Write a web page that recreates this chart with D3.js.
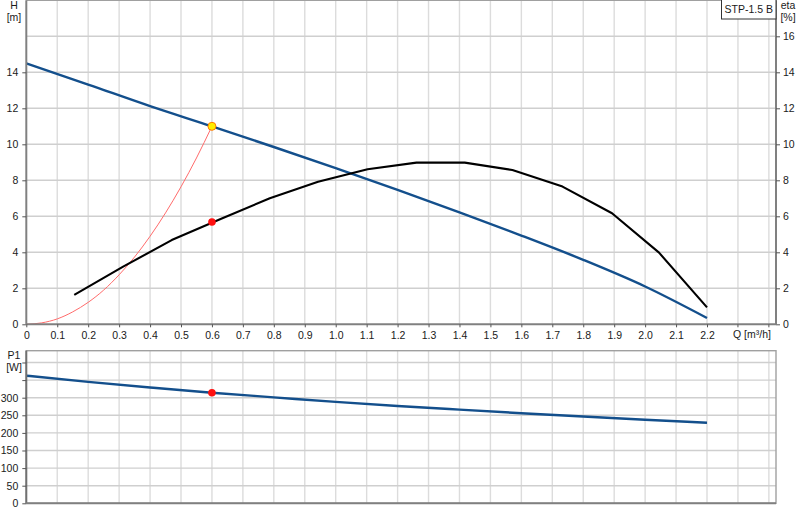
<!DOCTYPE html>
<html>
<head>
<meta charset="utf-8">
<script src="https://cdn.jsdelivr.net/npm/d3@7"></script>
<style>
  html, body { margin: 0; padding: 0; background: #fff; }
  svg { display: block; font-family: "Liberation Sans", Arial, sans-serif; }
  text { fill: #1a1a1a; }
</style>
</head>
<body>
<svg id="chart" width="800" height="520"></svg>
<script>
// ---------- data ----------
const xTickLabels = [0,0.1,0.2,0.3,0.4,0.5,0.6,0.7,0.8,0.9,1.0,1.1,1.2,1.3,1.4,1.5,1.6,1.7,1.8,1.9,2.0,2.1,2.2];
const hTicks = [0,2,4,6,8,10,12,14];
const etaTicks = [0,2,4,6,8,10,12,14,16];
const p1Ticks = [0,50,100,150,200,250,300];

// pump curve H(Q)
const hQ = [0, 0.2, 0.4, 0.6, 0.8, 1.0, 1.2, 1.4, 1.6, 1.8, 2.0, 2.2];
const hVal = [14.5, 13.32, 12.12, 11.0, 9.85, 8.68, 7.47, 6.22, 4.93, 3.58, 2.1, 0.35];

// efficiency eta(Q)
const etaQ = [0.155, 0.313, 0.47, 0.628, 0.787, 0.943, 1.103, 1.261, 1.417, 1.571, 1.733, 1.893, 2.045, 2.2];
const etaVal = [1.63, 3.2, 4.68, 5.85, 7.0, 7.92, 8.61, 8.98, 8.98, 8.57, 7.65, 6.17, 3.98, 0.94];

// system curve
const sysQ = [0, 0.05, 0.1, 0.15, 0.2, 0.25, 0.3, 0.35, 0.4, 0.45, 0.5, 0.55, 0.6];
const sysVal = [0, 0.08, 0.3, 0.69, 1.22, 1.9, 2.75, 3.74, 4.89, 6.19, 7.64, 9.24, 11.0];

// power P1(Q)
const p1Q = [0, 0.2, 0.4, 0.6, 0.8, 1.0, 1.2, 1.4, 1.6, 1.8, 2.0, 2.2];
const p1Val = [362.5, 345, 329, 314, 301, 288, 276.5, 266, 256, 246.5, 237.5, 229];

// duty point
const dutyQ = 0.6, dutyH = 11.0, dutyEta = 5.68, dutyP1 = 314;
const title = "STP-1.5 B";

// ---------- layout ----------
const svg = d3.select("#chart");
const L = 26.3, R = 776;
const topT = 0.3, topB = 324.3;
const botT = 350.7, botB = 503.3;

const x = d3.scaleLinear().domain([0, 2.423]).range([L, R]);
const yH = d3.scaleLinear().domain([0, 18]).range([topB, topT]);
const yP = d3.scaleLinear().domain([0, 433.5]).range([botB, botT]);

const vGrid = d3.range(1, 25).map(i => i / 10);
const hGridTop = [2,4,6,8,10,12,14,16];
const hGridBot = [50,100,150,200,250,300,350,400];

function grid(g, yScale, hVals, y0, y1) {
  g.selectAll("line.v").data(vGrid).join("line")
    .attr("x1", d => x(d)).attr("x2", d => x(d))
    .attr("y1", y0).attr("y2", y1)
    .attr("stroke", "#dcdcdc").attr("stroke-width", 1.4);
  g.selectAll("line.h").data(hVals).join("line")
    .attr("x1", L).attr("x2", R)
    .attr("y1", d => yScale(d)).attr("y2", d => yScale(d))
    .attr("stroke", "#cfcfcf").attr("stroke-width", 1.4);
}

// ---------- top panel ----------
const gTop = svg.append("g");
grid(gTop.append("g"), yH, hGridTop, topT, topB);
// frame top
gTop.append("line").attr("x1", L).attr("x2", R).attr("y1", topT).attr("y2", topT)
  .attr("stroke", "#a0a0a0").attr("stroke-width", 1.2);

// system curve
gTop.append("path")
  .datum(sysQ.map((q, i) => [q, sysVal[i]]))
  .attr("fill", "none").attr("stroke", "#ff6b6b").attr("stroke-width", 1)
  .attr("d", d3.line().x(d => x(d[0])).y(d => yH(d[1])).curve(d3.curveMonotoneX));

// H curve
gTop.append("path")
  .datum(hQ.map((q, i) => [q, hVal[i]]))
  .attr("fill", "none").attr("stroke", "#134f8c").attr("stroke-width", 2.4)
  .attr("d", d3.line().x(d => x(d[0])).y(d => yH(d[1])).curve(d3.curveMonotoneX));

// eta curve
gTop.append("path")
  .datum(etaQ.map((q, i) => [q, etaVal[i]]))
  .attr("fill", "none").attr("stroke", "#000").attr("stroke-width", 2.1)
  .attr("stroke-linejoin", "round")
  .attr("d", d3.line().x(d => x(d[0])).y(d => yH(d[1])));

// duty points
gTop.append("circle").attr("cx", x(dutyQ)).attr("cy", yH(dutyEta)).attr("r", 3.8)
  .attr("fill", "#ff1010");
gTop.append("circle").attr("cx", x(dutyQ)).attr("cy", yH(dutyH)).attr("r", 4)
  .attr("fill", "#ffee00").attr("stroke", "#ff7a00").attr("stroke-width", 1);

// axes top
const axLeft = d3.axisLeft(yH).tickValues(hTicks).tickSize(4).tickPadding(4).tickFormat(d3.format("d"));
const gAL = gTop.append("g").attr("transform", `translate(${L},0)`).call(axLeft);
const axRight = d3.axisRight(yH).tickValues(etaTicks).tickSize(4).tickPadding(3).tickFormat(d3.format("d"));
const gAR = gTop.append("g").attr("transform", `translate(${R},0)`).call(axRight);
const axBottom = d3.axisBottom(x).tickValues(xTickLabels).tickSize(3).tickPadding(4)
  .tickFormat(d => d === 0 ? "0" : d3.format(".1f")(d));
const gAB = gTop.append("g").attr("transform", `translate(0,${topB})`).call(axBottom);

[gAL, gAR, gAB].forEach(g => {
  g.select(".domain").attr("stroke", "#808080").attr("stroke-width", 2);
  g.selectAll(".tick line").attr("stroke", "#555");
  g.selectAll(".tick text").attr("font-size", 10.5).attr("fill", "#1a1a1a")
    .attr("font-family", "Liberation Sans, Arial, sans-serif");
});
gAL.select(".domain").attr("d", `M0,${topT}V${topB}`);
gAR.select(".domain").attr("d", `M0,${topT}V${topB}`);
gAB.select(".domain").attr("d", `M${L},0H${R}`);
// extend ticks at 2.3, 2.4 (no label)
gTop.selectAll("line.xt").data([2.3, 2.4]).join("line")
  .attr("x1", d => x(d)).attr("x2", d => x(d)).attr("y1", topB).attr("y2", topB + 3)
  .attr("stroke", "#555");

gTop.append("text").attr("x", 752).attr("y", topB + 14).attr("text-anchor", "middle")
  .attr("font-size", 10.5).text("Q [m³/h]");

// axis titles
gTop.append("text").attr("x", 14).attr("y", 9).attr("text-anchor", "middle").attr("font-size", 10.5).text("H");
gTop.append("text").attr("x", 14).attr("y", 21).attr("text-anchor", "middle").attr("font-size", 10.5).text("[m]");
gTop.append("text").attr("x", 788).attr("y", 9).attr("text-anchor", "middle").attr("font-size", 10.5).text("eta");
gTop.append("text").attr("x", 788).attr("y", 21).attr("text-anchor", "middle").attr("font-size", 10.5).text("[%]");

// legend box
gTop.append("rect").attr("x", 721.5).attr("y", -1).attr("width", 54.5).attr("height", 20)
  .attr("fill", "#fff").attr("stroke", "#333").attr("stroke-width", 1);
gTop.append("text").attr("x", 748.7).attr("y", 12.5).attr("text-anchor", "middle")
  .attr("font-size", 10.5).text(title);

// ---------- bottom panel ----------
const gBot = svg.append("g");
grid(gBot.append("g"), yP, hGridBot, botT, botB);
gBot.append("rect").attr("x", L).attr("y", botT).attr("width", R - L).attr("height", botB - botT)
  .attr("fill", "none").attr("stroke", "#a0a0a0").attr("stroke-width", 1.4);

gBot.append("path")
  .datum(p1Q.map((q, i) => [q, p1Val[i]]))
  .attr("fill", "none").attr("stroke", "#134f8c").attr("stroke-width", 2.4)
  .attr("d", d3.line().x(d => x(d[0])).y(d => yP(d[1])).curve(d3.curveMonotoneX));

gBot.append("circle").attr("cx", x(dutyQ)).attr("cy", yP(dutyP1)).attr("r", 3.8).attr("fill", "#ff1010");

const axP = d3.axisLeft(yP).tickValues(p1Ticks.concat([350, 400])).tickSize(4).tickPadding(4)
  .tickFormat(d => p1Ticks.includes(d) ? d3.format("d")(d) : "");
const gAP = gBot.append("g").attr("transform", `translate(${L},0)`).call(axP);
gAP.select(".domain").attr("stroke", "#707070").attr("stroke-width", 2).attr("d", `M0,${botT}V${botB}`);
gAP.selectAll(".tick line").attr("stroke", "#555");
gAP.selectAll(".tick text").attr("font-size", 10.5).attr("fill", "#1a1a1a")
  .attr("font-family", "Liberation Sans, Arial, sans-serif");
gBot.append("line").attr("x1", L).attr("x2", R).attr("y1", botB).attr("y2", botB)
  .attr("stroke", "#808080").attr("stroke-width", 2);

gBot.append("text").attr("x", 14).attr("y", 359).attr("text-anchor", "middle").attr("font-size", 10.5).text("P1");
gBot.append("text").attr("x", 14).attr("y", 371).attr("text-anchor", "middle").attr("font-size", 10.5).text("[W]");
</script>
</body>
</html>
